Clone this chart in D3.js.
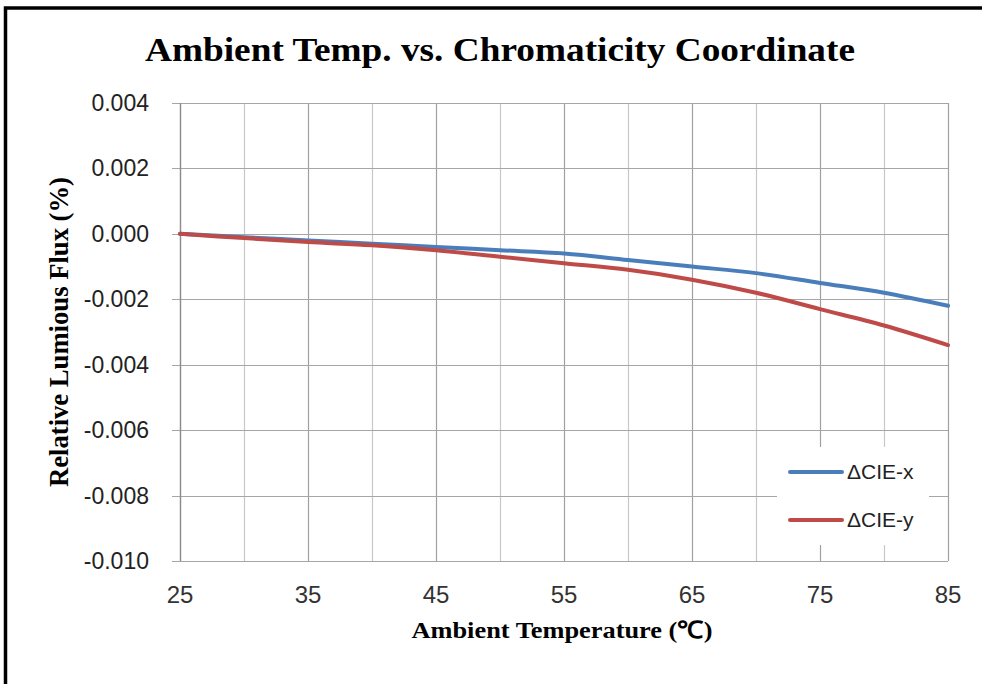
<!DOCTYPE html>
<html>
<head>
<meta charset="utf-8">
<script src="https://cdn.jsdelivr.net/npm/d3@7"></script>
<style>
  body { margin: 0; background: #fff; }
  svg { display: block; }
</style>
</head>
<body>
<div id="chart"></div>
<script>
// data
var temps = [25, 30, 35, 40, 45, 50, 55, 60, 65, 70, 75, 80, 85];
var cieX = [0, -0.0001, -0.0002, -0.0003, -0.0004, -0.0005, -0.0006, -0.0008, -0.001, -0.0012, -0.0015, -0.0018, -0.0022];
var cieY = [0, -0.00013, -0.00025, -0.00035, -0.0005, -0.0007, -0.0009, -0.0011, -0.0014, -0.0018, -0.0023, -0.0028, -0.0034];
var seriesNames = ["\u0394CIE-x", "\u0394CIE-y"];
var seriesColors = ["#4a7ebb", "#be4b48"];
var xTicks = [25, 35, 45, 55, 65, 75, 85];
var yTicks = [0.004, 0.002, 0, -0.002, -0.004, -0.006, -0.008, -0.010];

var W = 982, H = 684;
var margin = {top: 103, right: 34, bottom: 123, left: 180};

var svg = d3.select("#chart")
  .append("svg")
    .attr("width", W)
    .attr("height", H);

// outer frame (top + left edges visible)
svg.append("path")
  .attr("d", "M5.5," + H + "V8H" + W)
  .attr("fill", "none")
  .attr("stroke", "#000")
  .attr("stroke-width", 3.5);

var x = d3.scaleLinear()
  .domain([25, 85])
  .range([margin.left, W - margin.right]);

var y = d3.scaleLinear()
  .domain([-0.010, 0.004])
  .range([H - margin.bottom, margin.top]);

// vertical gridlines every 5 degrees
var g = svg.append("g");
g.selectAll(".vgrid")
  .data(d3.range(25, 86, 5))
  .enter().append("line")
    .attr("x1", d => Math.round(x(d)) + 0.5)
    .attr("x2", d => Math.round(x(d)) + 0.5)
    .attr("y1", y(0.004))
    .attr("y2", y(-0.010))
    .attr("stroke", d => (d - 25) % 10 == 0 ? "#a0a0a0" : "#c8c8c8")
    .attr("stroke-width", 1.2);

// horizontal gridlines
g.selectAll(".hgrid")
  .data(yTicks)
  .enter().append("line")
    .attr("x1", x(25) - 8)
    .attr("x2", x(85))
    .attr("y1", d => Math.round(y(d)) + 0.5)
    .attr("y2", d => Math.round(y(d)) + 0.5)
    .attr("stroke", "#a6a6a6")
    .attr("stroke-width", 1.2);

// left axis line
svg.append("line")
  .attr("x1", Math.round(x(25)) + 0.5)
  .attr("x2", Math.round(x(25)) + 0.5)
  .attr("y1", y(0.004))
  .attr("y2", y(-0.010))
  .attr("stroke", "#8c8c8c")
  .attr("stroke-width", 1.3);

// y tick labels
svg.append("g")
  .selectAll("text")
  .data(yTicks)
  .enter().append("text")
    .attr("x", 149)
    .attr("y", d => y(d) + 8)
    .attr("text-anchor", "end")
    .style("font-family", "'Liberation Sans', Arial, sans-serif")
    .style("font-size", "23px")
    .style("fill", "#222")
    .text(d => d3.format(".3f")(d).replace("\u2212", "-"));

// x tick labels
svg.append("g")
  .selectAll("text")
  .data(xTicks)
  .enter().append("text")
    .attr("x", d => x(d))
    .attr("y", 603)
    .attr("text-anchor", "middle")
    .style("font-family", "'Liberation Sans', Arial, sans-serif")
    .style("font-size", "24px")
    .style("fill", "#333")
    .text(d => d);

// lines
var line = d3.line()
  .x((d, i) => x(temps[i]))
  .y(d => y(d))
  .curve(d3.curveCatmullRom.alpha(0.5));

[cieX, cieY].forEach(function(s, i) {
  svg.append("path")
    .datum(s)
    .attr("d", line)
    .attr("fill", "none")
    .attr("stroke", seriesColors[i])
    .attr("stroke-width", 4)
    .attr("stroke-linecap", "round")
    .attr("stroke-linejoin", "round");
});

// legend
var legend = svg.append("g");
legend.append("rect")
  .attr("x", 777).attr("y", 447)
  .attr("width", 152).attr("height", 98)
  .attr("fill", "#fff");

seriesNames.forEach(function(name, i) {
  var ly = 472 + i * 48;
  legend.append("line")
    .attr("x1", 790).attr("x2", 842)
    .attr("y1", ly).attr("y2", ly)
    .attr("stroke", seriesColors[i])
    .attr("stroke-width", 4)
    .attr("stroke-linecap", "round");
  legend.append("text")
    .attr("x", 847)
    .attr("y", ly + 7)
    .style("font-family", "'Liberation Sans', Arial, sans-serif")
    .style("font-size", "21px")
    .style("fill", "#222")
    .text(name);
});

// titles
svg.append("text")
  .attr("x", 500)
  .attr("y", 61)
  .attr("text-anchor", "middle")
  .attr("textLength", 710)
  .attr("lengthAdjust", "spacingAndGlyphs")
  .style("font-family", "'Liberation Serif', 'Times New Roman', serif")
  .style("font-weight", "bold")
  .style("font-size", "33px")
  .text("Ambient Temp. vs. Chromaticity Coordinate");

svg.append("text")
  .attr("x", 562)
  .attr("y", 638)
  .attr("text-anchor", "middle")
  .attr("textLength", 301)
  .attr("lengthAdjust", "spacingAndGlyphs")
  .style("font-family", "'Liberation Serif', 'Times New Roman', serif")
  .style("font-weight", "bold")
  .style("font-size", "24px")
  .text("Ambient Temperature (\u2103)");

svg.append("text")
  .attr("transform", "translate(68,332) rotate(-90)")
  .attr("text-anchor", "middle")
  .attr("textLength", 310)
  .attr("lengthAdjust", "spacingAndGlyphs")
  .style("font-family", "'Liberation Serif', 'Times New Roman', serif")
  .style("font-weight", "bold")
  .style("font-size", "27px")
  .text("Relative Lumious Flux (%)");
</script>
</body>
</html>
